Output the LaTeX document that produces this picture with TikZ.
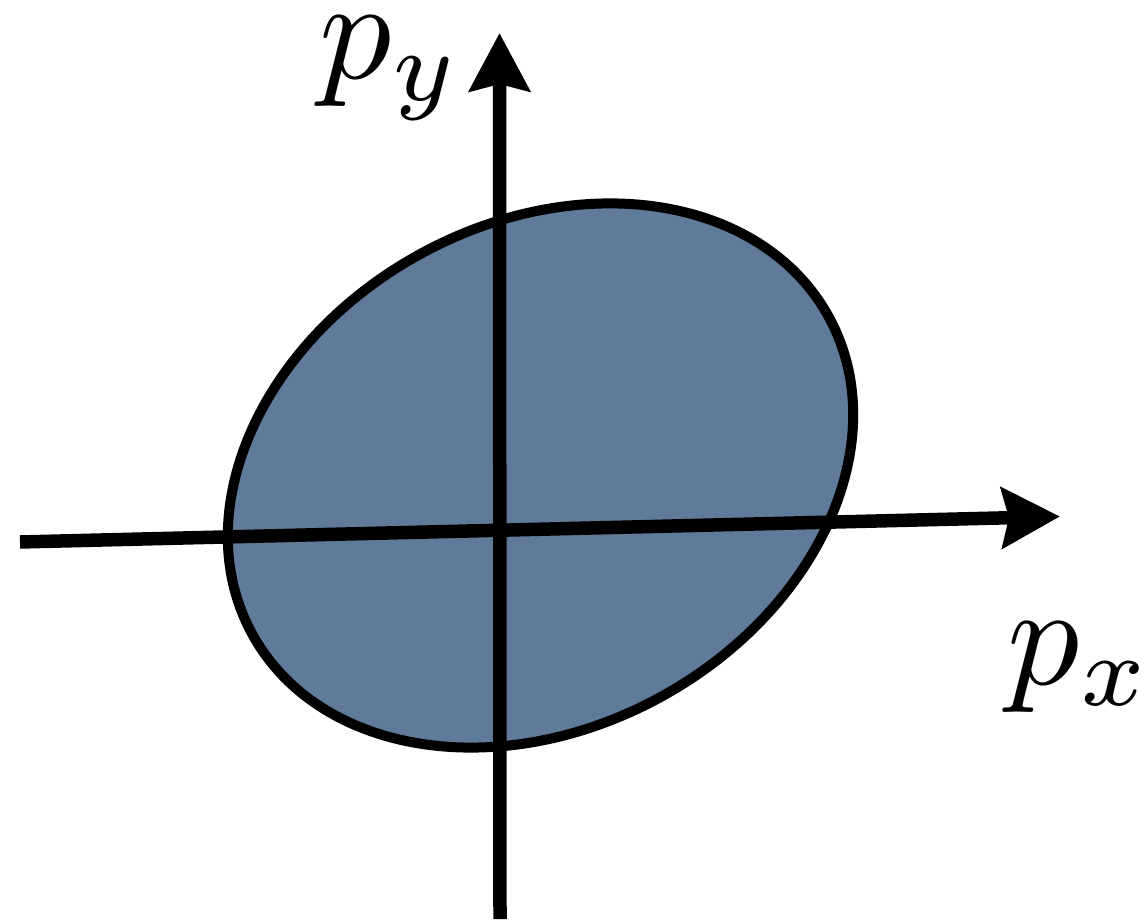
\documentclass[tikz,border=0pt]{standalone}
\usetikzlibrary{arrows.meta}
\definecolor{blobfill}{RGB}{96,122,153}
\tikzset{
  axisline/.style={line width=13.5pt, -{Stealth[length=58pt, width=60pt, inset=7pt]}},
  blob/.style={fill=blobfill, draw=black, line width=10pt},
  axislabel/.style={scale=14.4, inner sep=0pt, anchor=base west}
}
\begin{document}
\begin{tikzpicture}[x=1pt,y=1pt]
\useasboundingbox (0,0) rectangle (1148,919);
% ellipse
\draw[blob] (540.5,443.5) ellipse[x radius=329, y radius=252, rotate=29];
% axes
\coordinate (xstart) at (20,377);
\coordinate (xend) at (1060,402.5);
\coordinate (ystart) at (500,0);
\coordinate (yend) at (499.5,886);
\draw[axisline] (xstart) -- (xend);
\draw[axisline] (ystart) -- (yend);
% labels
\node[axislabel] (py) at (317,840) {$p_y$};
\node[axislabel] (px) at (1005,235) {$p_x$};
\end{tikzpicture}
\end{document}
